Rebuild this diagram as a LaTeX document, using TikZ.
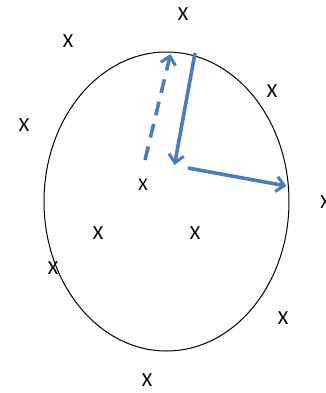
\documentclass[tikz,border=0pt]{standalone}
\usepackage{fontspec}
\setmainfont{Carlito}
\usetikzlibrary{arrows.meta}
\definecolor{arrowblue}{RGB}{74,126,187}

\begin{document}
\begin{tikzpicture}[x=1pt,y=-1pt,
  pt/.style={inner sep=0pt, font=\fontsize{20}{20}\selectfont},
  vec/.style={arrowblue, line width=3.6pt,
    -{Straight Barb[length=8pt,width=15pt,line width=3pt]}}]
\useasboundingbox (0,0) rectangle (326,393);
\clip (0,0) rectangle (326,393);

% 楕円
\draw[line width=1pt] (166.5,201.5) ellipse [x radius=122.5, y radius=149.5];

% 点
\foreach \name/\x/\y in {p1/183/14, p2/68/41, p3/272/91, p4/24/125,
  p6/325.5/202, p7/98/233, p8/195/233, p9/53/268, p10/283/318, p11/147/380} {
  \node[pt] (\name) at (\x,\y) {X};
}
\node[pt, font=\fontsize{18}{18}\selectfont] (p5) at (143,185) {X};

% 矢印
\coordinate (d0) at (145,160);
\coordinate (d1) at (170.5,54);
\coordinate (s0) at (195,53);
\coordinate (s1) at (174.5,165);
\coordinate (r0) at (188,168);
\coordinate (r1) at (286.5,186);
\draw[vec, dash pattern=on 14pt off 9pt] (d0) -- (d1);
\draw[vec] (s0) -- (s1);
\draw[vec] (r0) -- (r1);

\end{tikzpicture}
\end{document}
